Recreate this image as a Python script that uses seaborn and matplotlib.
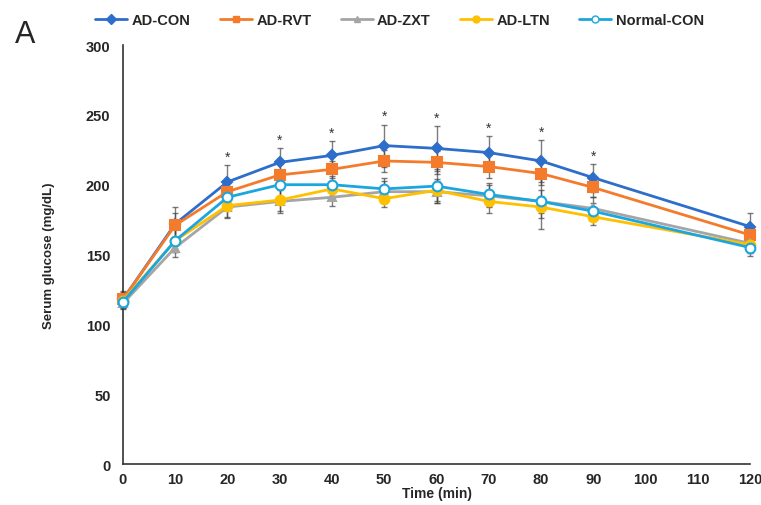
import numpy as np
import pandas as pd
import matplotlib
matplotlib.use("Agg")
import matplotlib.pyplot as plt
import seaborn as sns
from matplotlib.lines import Line2D

time = [0, 10, 20, 30, 40, 50, 60, 70, 80, 90, 120]
groups = ["AD-CON", "AD-RVT", "AD-ZXT", "AD-LTN", "Normal-CON"]
ad_con = [118, 172, 202, 216, 221, 228, 226, 223, 217, 205, 170]
ad_rvt = [118, 171, 195, 207, 211, 217, 216, 213, 208, 198, 164]
ad_zxt = [115, 155, 184, 188, 191, 195, 195, 192, 188, 183, 158]
ad_ltn = [117, 160, 185, 189, 197, 190, 196, 188, 184, 177, 157]
normal_con = [116, 160, 191, 200, 200, 197, 199, 193, 188, 181, 155]
err_con = [6, 12, 12, 10, 10, 15, 16, 12, 15, 10, 10]
err_rvt = [5, 9, 8, 8, 6, 8, 8, 8, 8, 7, 6]
err_zxt = [4, 7, 8, 8, 6, 8, 8, 8, 20, 8, 6]
err_ltn = [4, 8, 8, 8, 6, 6, 8, 8, 8, 6, 6]
err_nor = [4, 8, 8, 8, 6, 8, 12, 8, 8, 6, 6]
star_times = [20, 30, 40, 50, 60, 70, 80, 90]

values = [ad_con, ad_rvt, ad_zxt, ad_ltn, normal_con]
errors = [err_con, err_rvt, err_zxt, err_ltn, err_nor]

rows = []
for g, v in zip(groups, values):
    for t, y in zip(time, v):
        rows.append({"Time": t, "Glucose": y, "Group": g})
df = pd.DataFrame(rows)

colors = {"AD-CON": "#2D6ECB", "AD-RVT": "#F47B2B", "AD-ZXT": "#A5A5A5",
          "AD-LTN": "#FFC000", "Normal-CON": "#1BA6E0"}
markers = {"AD-CON": "D", "AD-RVT": "s", "AD-ZXT": "^", "AD-LTN": "o", "Normal-CON": "o"}
msizes = {"AD-CON": 5, "AD-RVT": 7, "AD-ZXT": 6, "AD-LTN": 7, "Normal-CON": 7}

sns.set_style("white")
plt.rcParams["font.family"] = ["Liberation Sans", "DejaVu Sans"]

fig = plt.figure(figsize=(7.61, 5.06), dpi=100)
ax = fig.add_axes([0.1616, 0.081, 0.824, 0.828])

for g, v, e in zip(groups, values, errors):
    ax.errorbar(time, v, yerr=e, fmt="none", ecolor="#444444", elinewidth=1.0,
                capsize=2.5, capthick=1.0, alpha=0.7, zorder=1, clip_on=False)

for g in groups:
    sub = df[df["Group"] == g]
    mfc = "white" if g == "Normal-CON" else colors[g]
    sns.lineplot(data=sub, x="Time", y="Glucose", color=colors[g], marker=markers[g],
                 markersize=msizes[g], markerfacecolor=mfc, markeredgecolor=colors[g],
                 markeredgewidth=1.5, linewidth=2, ax=ax, zorder=3, clip_on=False,
                 legend=False)

for t in star_times:
    i = time.index(t)
    ax.text(t, ad_con[i] + err_con[i] + 1, "*", ha="center", va="bottom",
            fontsize=10, color="#333333")

ax.set_xlim(0, 120)
ax.set_ylim(0, 300)
ax.set_xticks(range(0, 121, 10))
ax.set_yticks(range(0, 301, 50))
ax.tick_params(axis="both", labelsize=10.5, length=5, width=1, color="#333333", direction="out",
               pad=4)
for lab in ax.get_xticklabels() + ax.get_yticklabels():
    lab.set_fontweight("bold")
ax.set_xlabel("Time (min)", fontsize=10, fontweight="bold", labelpad=0)
ax.set_ylabel("Serum glucose (mg/dL)", fontsize=9.5, fontweight="bold", labelpad=22)
sns.despine(ax=ax)
for s in ["left", "bottom"]:
    ax.spines[s].set_color("#333333")
    ax.spines[s].set_linewidth(1.2)
ax.tick_params(axis="x", length=0, pad=6)

handles = []
for g in groups:
    mfc = "white" if g == "Normal-CON" else colors[g]
    handles.append(Line2D([0], [0], color=colors[g], marker=markers[g], markersize=5,
                          markerfacecolor=mfc, markeredgecolor=colors[g], linewidth=2))
leg = fig.legend(handles, groups, loc="center", bbox_to_anchor=(0.525, 0.958), ncol=5,
                 frameon=False, handlelength=2.2, handletextpad=0.3, columnspacing=2.0,
                 prop={"weight": "bold", "size": 10.5})

fig.text(0.02, 0.915, "A", fontsize=22, ha="left", va="baseline")

fig.savefig("out.png", dpi=100)
